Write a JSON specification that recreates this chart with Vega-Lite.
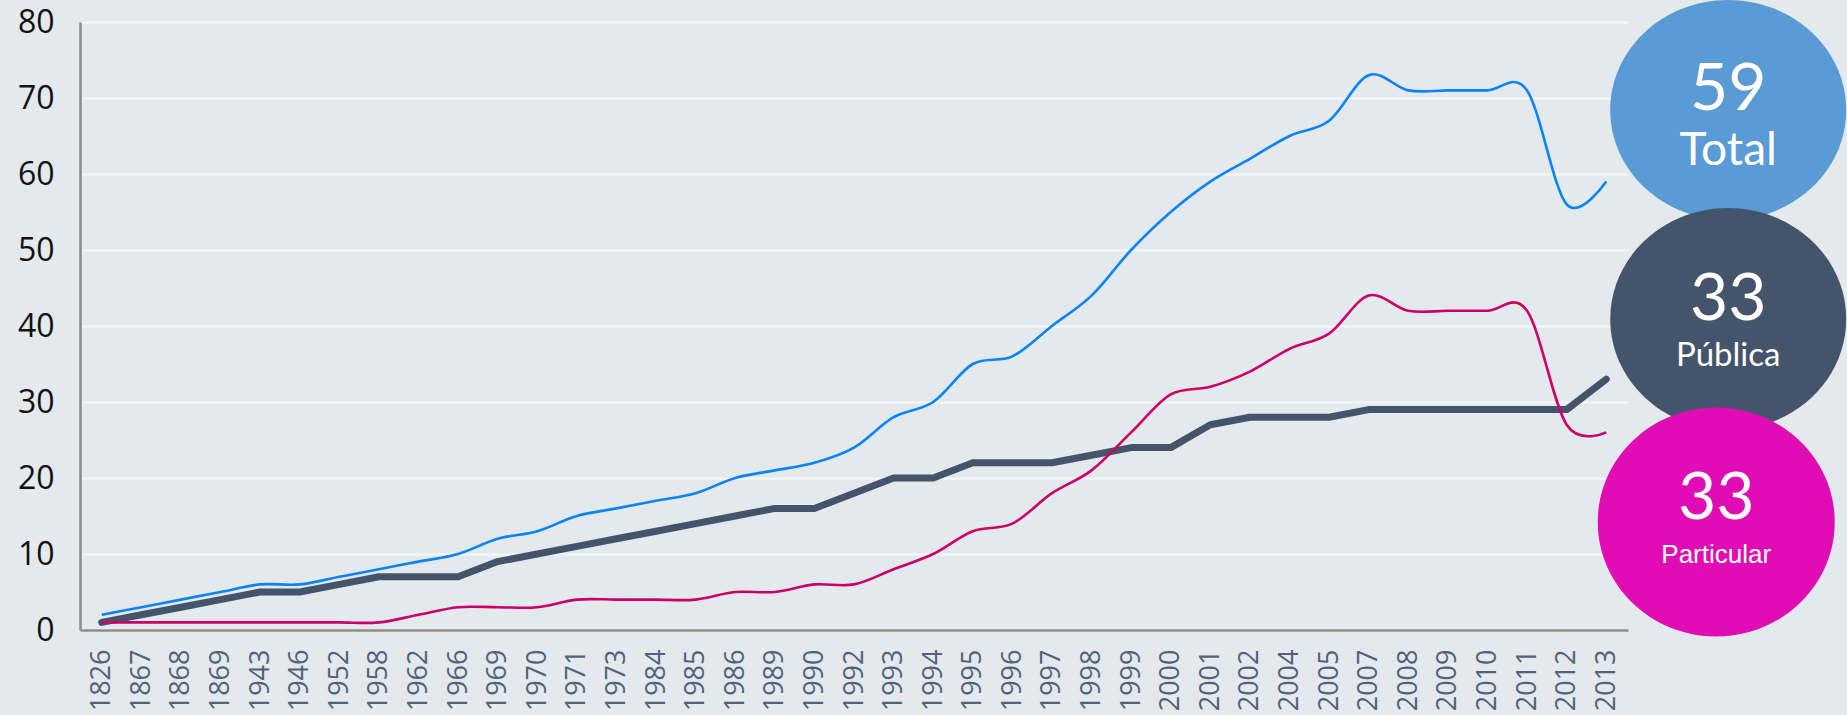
{
  "$schema": "https://vega.github.io/schema/vega-lite/v6.json",
  "width": 1548,
  "height": 608,
  "autosize": {"type": "none"},
  "padding": {"left": 80, "top": 22, "right": 219, "bottom": 85},
  "background": "#e3e9ec",
  "config": {"view": {"stroke": null}},
  "datasets": {
    "series": [
      {"año": "1826", "serie": "Pública", "valor": 1}, {"año": "1826", "serie": "Particular", "valor": 1}, {"año": "1826", "serie": "Total", "valor": 2},
      {"año": "1867", "serie": "Pública", "valor": 2}, {"año": "1867", "serie": "Particular", "valor": 1}, {"año": "1867", "serie": "Total", "valor": 3},
      {"año": "1868", "serie": "Pública", "valor": 3}, {"año": "1868", "serie": "Particular", "valor": 1}, {"año": "1868", "serie": "Total", "valor": 4},
      {"año": "1869", "serie": "Pública", "valor": 4}, {"año": "1869", "serie": "Particular", "valor": 1}, {"año": "1869", "serie": "Total", "valor": 5},
      {"año": "1943", "serie": "Pública", "valor": 5}, {"año": "1943", "serie": "Particular", "valor": 1}, {"año": "1943", "serie": "Total", "valor": 6},
      {"año": "1946", "serie": "Pública", "valor": 5}, {"año": "1946", "serie": "Particular", "valor": 1}, {"año": "1946", "serie": "Total", "valor": 6},
      {"año": "1952", "serie": "Pública", "valor": 6}, {"año": "1952", "serie": "Particular", "valor": 1}, {"año": "1952", "serie": "Total", "valor": 7},
      {"año": "1958", "serie": "Pública", "valor": 7}, {"año": "1958", "serie": "Particular", "valor": 1}, {"año": "1958", "serie": "Total", "valor": 8},
      {"año": "1962", "serie": "Pública", "valor": 7}, {"año": "1962", "serie": "Particular", "valor": 2}, {"año": "1962", "serie": "Total", "valor": 9},
      {"año": "1966", "serie": "Pública", "valor": 7}, {"año": "1966", "serie": "Particular", "valor": 3}, {"año": "1966", "serie": "Total", "valor": 10},
      {"año": "1969", "serie": "Pública", "valor": 9}, {"año": "1969", "serie": "Particular", "valor": 3}, {"año": "1969", "serie": "Total", "valor": 12},
      {"año": "1970", "serie": "Pública", "valor": 10}, {"año": "1970", "serie": "Particular", "valor": 3}, {"año": "1970", "serie": "Total", "valor": 13},
      {"año": "1971", "serie": "Pública", "valor": 11}, {"año": "1971", "serie": "Particular", "valor": 4}, {"año": "1971", "serie": "Total", "valor": 15},
      {"año": "1973", "serie": "Pública", "valor": 12}, {"año": "1973", "serie": "Particular", "valor": 4}, {"año": "1973", "serie": "Total", "valor": 16},
      {"año": "1984", "serie": "Pública", "valor": 13}, {"año": "1984", "serie": "Particular", "valor": 4}, {"año": "1984", "serie": "Total", "valor": 17},
      {"año": "1985", "serie": "Pública", "valor": 14}, {"año": "1985", "serie": "Particular", "valor": 4}, {"año": "1985", "serie": "Total", "valor": 18},
      {"año": "1986", "serie": "Pública", "valor": 15}, {"año": "1986", "serie": "Particular", "valor": 5}, {"año": "1986", "serie": "Total", "valor": 20},
      {"año": "1989", "serie": "Pública", "valor": 16}, {"año": "1989", "serie": "Particular", "valor": 5}, {"año": "1989", "serie": "Total", "valor": 21},
      {"año": "1990", "serie": "Pública", "valor": 16}, {"año": "1990", "serie": "Particular", "valor": 6}, {"año": "1990", "serie": "Total", "valor": 22},
      {"año": "1992", "serie": "Pública", "valor": 18}, {"año": "1992", "serie": "Particular", "valor": 6}, {"año": "1992", "serie": "Total", "valor": 24},
      {"año": "1993", "serie": "Pública", "valor": 20}, {"año": "1993", "serie": "Particular", "valor": 8}, {"año": "1993", "serie": "Total", "valor": 28},
      {"año": "1994", "serie": "Pública", "valor": 20}, {"año": "1994", "serie": "Particular", "valor": 10}, {"año": "1994", "serie": "Total", "valor": 30},
      {"año": "1995", "serie": "Pública", "valor": 22}, {"año": "1995", "serie": "Particular", "valor": 13}, {"año": "1995", "serie": "Total", "valor": 35},
      {"año": "1996", "serie": "Pública", "valor": 22}, {"año": "1996", "serie": "Particular", "valor": 14}, {"año": "1996", "serie": "Total", "valor": 36},
      {"año": "1997", "serie": "Pública", "valor": 22}, {"año": "1997", "serie": "Particular", "valor": 18}, {"año": "1997", "serie": "Total", "valor": 40},
      {"año": "1998", "serie": "Pública", "valor": 23}, {"año": "1998", "serie": "Particular", "valor": 21}, {"año": "1998", "serie": "Total", "valor": 44},
      {"año": "1999", "serie": "Pública", "valor": 24}, {"año": "1999", "serie": "Particular", "valor": 26}, {"año": "1999", "serie": "Total", "valor": 50},
      {"año": "2000", "serie": "Pública", "valor": 24}, {"año": "2000", "serie": "Particular", "valor": 31}, {"año": "2000", "serie": "Total", "valor": 55},
      {"año": "2001", "serie": "Pública", "valor": 27}, {"año": "2001", "serie": "Particular", "valor": 32}, {"año": "2001", "serie": "Total", "valor": 59},
      {"año": "2002", "serie": "Pública", "valor": 28}, {"año": "2002", "serie": "Particular", "valor": 34}, {"año": "2002", "serie": "Total", "valor": 62},
      {"año": "2004", "serie": "Pública", "valor": 28}, {"año": "2004", "serie": "Particular", "valor": 37}, {"año": "2004", "serie": "Total", "valor": 65},
      {"año": "2005", "serie": "Pública", "valor": 28}, {"año": "2005", "serie": "Particular", "valor": 39}, {"año": "2005", "serie": "Total", "valor": 67},
      {"año": "2007", "serie": "Pública", "valor": 29}, {"año": "2007", "serie": "Particular", "valor": 44}, {"año": "2007", "serie": "Total", "valor": 73},
      {"año": "2008", "serie": "Pública", "valor": 29}, {"año": "2008", "serie": "Particular", "valor": 42}, {"año": "2008", "serie": "Total", "valor": 71},
      {"año": "2009", "serie": "Pública", "valor": 29}, {"año": "2009", "serie": "Particular", "valor": 42}, {"año": "2009", "serie": "Total", "valor": 71},
      {"año": "2010", "serie": "Pública", "valor": 29}, {"año": "2010", "serie": "Particular", "valor": 42}, {"año": "2010", "serie": "Total", "valor": 71},
      {"año": "2011", "serie": "Pública", "valor": 29}, {"año": "2011", "serie": "Particular", "valor": 42}, {"año": "2011", "serie": "Total", "valor": 71},
      {"año": "2012", "serie": "Pública", "valor": 29}, {"año": "2012", "serie": "Particular", "valor": 27}, {"año": "2012", "serie": "Total", "valor": 56},
      {"año": "2013", "serie": "Pública", "valor": 33}, {"año": "2013", "serie": "Particular", "valor": 26}, {"año": "2013", "serie": "Total", "valor": 59}
    ],
    "burbujas": [
      {"año": "2013", "serie": "Total", "cifra": 59},
      {"año": "2013", "serie": "Pública", "cifra": 33},
      {"año": "2013", "serie": "Particular", "cifra": 33}
    ]
  },
  "data": {"name": "series"},
  "resolve": {"scale": {"y": "independent"}},
  "encoding": {
    "x": {
      "field": "año", "type": "ordinal",
      "scale": {"type": "point", "padding": 0.55},
      "axis": {
        "title": null, "labelAngle": 270, "labelFont": "Open Sans", "labelFontSize": 27,
        "labelColor": "#52627a", "labelPadding": 19, "ticks": false,
        "domainColor": "#8c8c8c", "domainWidth": 2.5, "grid": false, "labelOverlap": false
      }
    }
  },
  "layer": [
    {
      "encoding": {
        "y": {
          "field": "valor", "type": "quantitative",
          "scale": {"domain": [0, 80], "nice": false, "zero": true},
          "axis": {
            "title": null, "values": [0, 10, 20, 30, 40, 50, 60, 70, 80],
            "labelFont": "Open Sans", "labelFontSize": 32, "labelColor": "#111111",
            "labelPadding": 26, "ticks": false, "domainColor": "#8c8c8c", "domainWidth": 2.5,
            "grid": true, "gridColor": "#f3f5f6", "gridWidth": 2.5
          }
        }
      },
      "layer": [
        {
          "transform": [{"filter": "datum.serie === 'Pública'"}],
          "mark": {"type": "line", "color": "#44546a", "strokeWidth": 7, "strokeCap": "round", "strokeJoin": "round"}
        },
        {
          "transform": [{"filter": "datum.serie === 'Total'"}],
          "mark": {"type": "line", "color": "#0a84f5", "strokeWidth": 2.6, "interpolate": "cardinal"}
        },
        {
          "transform": [{"filter": "datum.serie === 'Particular'"}],
          "mark": {"type": "line", "color": "#cc0066", "strokeWidth": 2.6, "interpolate": "cardinal"}
        }
      ]
    },
    {
      "data": {"name": "burbujas"},
      "encoding": {
        "y": {
          "field": "serie", "type": "nominal", "axis": null,
          "scale": {"type": "point", "domain": ["Total", "Pública", "Particular"], "padding": 0.476, "align": 0.449}
        }
      },
      "layer": [
        {
          "transform": [{"filter": "datum.serie === 'Total'"}],
          "mark": {"type": "point", "filled": true, "opacity": 1, "color": "#5b9bd5", "size": 55696, "xOffset": 122,
                   "shape": "M -1 0 A 1 0.932 0 1 1 1 0 A 1 0.932 0 1 1 -1 0 Z"}
        },
        {
          "transform": [{"filter": "datum.serie === 'Total'"}],
          "mark": {"type": "text", "color": "white", "font": "Lato", "fontSize": 66, "align": "center", "baseline": "alphabetic", "dx": 122, "dy": 0},
          "encoding": {"text": {"field": "cifra"}}
        },
        {
          "transform": [{"filter": "datum.serie === 'Total'"}],
          "mark": {"type": "text", "color": "white", "font": "Lato", "fontSize": 46, "align": "center", "baseline": "alphabetic", "dx": 122, "dy": 55},
          "encoding": {"text": {"field": "serie"}}
        },
        {
          "transform": [{"filter": "datum.serie === 'Pública'"}],
          "mark": {"type": "point", "filled": true, "opacity": 1, "color": "#44546a", "size": 55696, "xOffset": 122, "yOffset": 3,
                   "shape": "M -1 0 A 1 0.94 0 1 1 1 0 A 1 0.94 0 1 1 -1 0 Z"}
        },
        {
          "transform": [{"filter": "datum.serie === 'Pública'"}],
          "mark": {"type": "text", "color": "white", "font": "Lato", "fontSize": 66, "align": "center", "baseline": "alphabetic", "dx": 122, "dy": 4},
          "encoding": {"text": {"field": "cifra"}}
        },
        {
          "transform": [{"filter": "datum.serie === 'Pública'"}],
          "mark": {"type": "text", "color": "white", "font": "Lato", "fontSize": 33, "align": "center", "baseline": "alphabetic", "dx": 122, "dy": 50},
          "encoding": {"text": {"field": "serie"}}
        },
        {
          "transform": [{"filter": "datum.serie === 'Particular'"}],
          "mark": {"type": "point", "filled": true, "opacity": 1, "color": "#e10db4", "size": 56169, "xOffset": 110,
                   "shape": "M -1 0 A 1 0.966 0 1 1 1 0 A 1 0.966 0 1 1 -1 0 Z"}
        },
        {
          "transform": [{"filter": "datum.serie === 'Particular'"}],
          "mark": {"type": "text", "color": "white", "font": "Lato", "fontSize": 66, "align": "center", "baseline": "alphabetic", "dx": 110, "dy": -3},
          "encoding": {"text": {"field": "cifra"}}
        },
        {
          "transform": [{"filter": "datum.serie === 'Particular'"}],
          "mark": {"type": "text", "color": "white", "font": "Liberation Sans", "fontSize": 26, "align": "center", "baseline": "alphabetic", "dx": 110, "dy": 41},
          "encoding": {"text": {"field": "serie"}}
        }
      ]
    }
  ]
}
